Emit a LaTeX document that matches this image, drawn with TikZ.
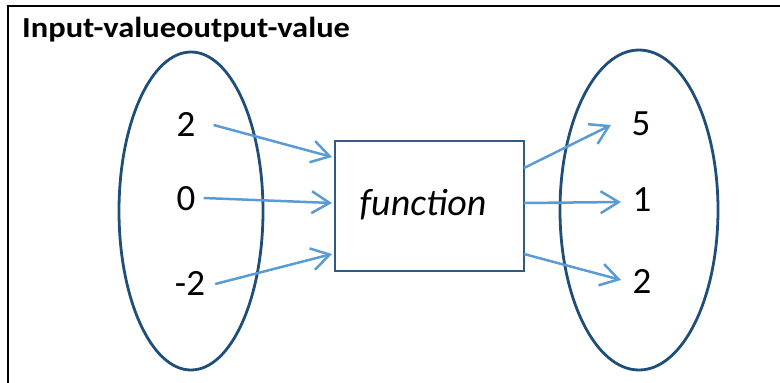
\documentclass[tikz,border=0pt]{standalone}
\usepackage{fontspec}
\setmainfont{Carlito}
\usetikzlibrary{arrows.meta}
\definecolor{setblue}{HTML}{1F4E79}
\definecolor{boxblue}{HTML}{2E5A85}
\definecolor{arrowblue}{HTML}{5B9BD5}
\tikzset{
  setoval/.style={draw=setblue, line width=2.8pt},
  funcbox/.style={draw=boxblue, line width=2.5pt},
  maparrow/.style={draw=arrowblue, line width=2.5pt,
    -{Straight Barb[length=18pt, width=22pt, line width=2.5pt]}},
  val/.style={font=\fontsize{37}{40}\selectfont, inner sep=0pt},
}
\begin{document}
\begin{tikzpicture}[x=1pt, y=-1pt]
  \useasboundingbox (0,0) rectangle (780,383);
  % frame: top and left edges only
  \draw[line width=2.6pt] (780,6) -- (8,6) -- (8,383);
  \node[anchor=base west, inner sep=0pt, font=\bfseries\fontsize{29}{30}\selectfont]
    (title) at (22,37) {\scalebox{1.12}[1]{Input-valueoutput-value}};

  % domain and range sets
  \draw[setoval] (191,211) ellipse [x radius=72, y radius=159];
  \draw[setoval] (639,210) ellipse [x radius=79, y radius=160];

  % function box
  \node[funcbox, minimum width=189pt, minimum height=130pt, inner sep=0pt] (f) at (429.5,206) {};
  \node[inner sep=0pt, font=\itshape\fontsize{38}{40}\selectfont] (fname) at (423,205) {function};

  % input values
  \node[val] (i1) at (186,124) {2};
  \node[val] (i2) at (186,199) {0};
  \node[val] (i3) at (190,283) {-2};

  % output values
  \node[val] (o1) at (641,124) {5};
  \node[val] (o2) at (642,200) {1};
  \node[val] (o3) at (642,281) {2};

  % anchor points on the box edges
  \coordinate (fi1) at (332,157);
  \coordinate (fi2) at (332,203);
  \coordinate (fi3) at (332,254);
  \coordinate (fo1) at (524,168);
  \coordinate (fo2) at (524,203);
  \coordinate (fo3) at (524,254);
  \coordinate (oa1) at (611,125);
  \coordinate (oa2) at (621,202);
  \coordinate (oa3) at (621,280);

  \draw[maparrow] ([xshift=18pt,yshift=-1pt]i1.east) -- (fi1);
  \draw[maparrow] ([xshift=8pt,yshift=1pt]i2.east) -- (fi2);
  \draw[maparrow] ([xshift=10pt,yshift=-1pt]i3.east) -- (fi3);
  \draw[maparrow] (fo1) -- (oa1);
  \draw[maparrow] (fo2) -- (oa2);
  \draw[maparrow] (fo3) -- (oa3);
\end{tikzpicture}
\end{document}
